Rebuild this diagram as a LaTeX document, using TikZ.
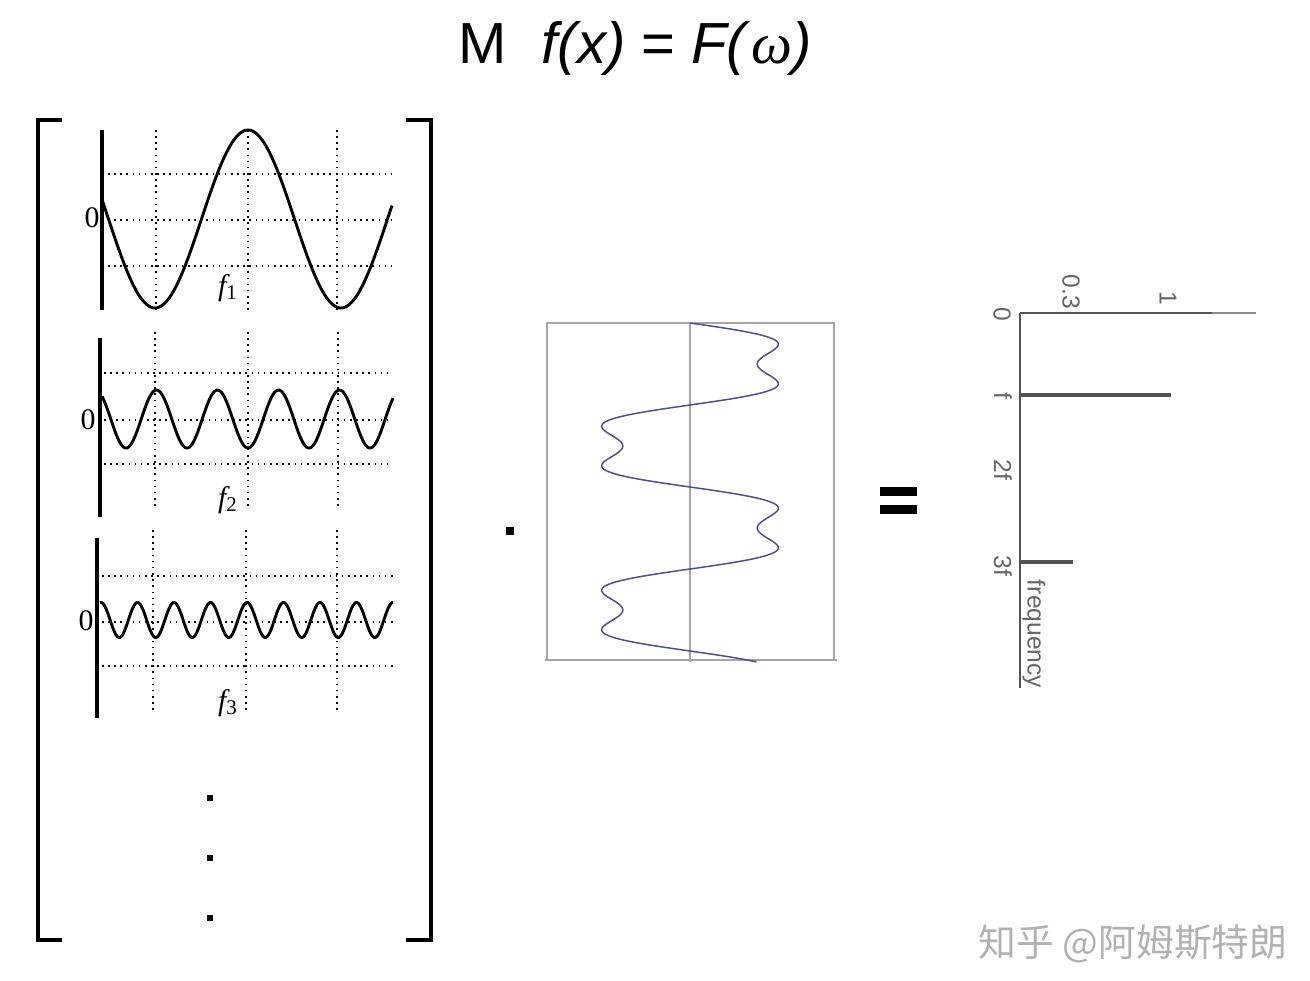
\documentclass[tikz,border=0pt]{standalone}
\usepackage{fontspec}
\setmainfont{Liberation Sans}
\newfontfamily\serifA{Liberation Serif}
\newfontfamily\cjk{Noto Sans CJK SC}
\begin{document}
\begin{tikzpicture}[x=0.02cm,y=-0.02cm,
  gridl/.style={line width=0.9pt, dash pattern=on 0.9pt off 2.6pt},
  wave/.style={line width=1.65pt, line join=round},
  axisv/.style={line width=1.8pt},
  bracketl/.style={line width=2.8pt},
  zlab/.style={font=\serifA\fontsize{17}{18}\selectfont, inner sep=0pt},
  flab/.style={font=\serifA\itshape\fontsize{17}{18}\selectfont, inner sep=0pt},
  dotsq/.style={fill=black, minimum size=3.4pt, inner sep=0pt},
  boxl/.style={draw=black!35, line width=0.6pt},
  spec/.style={draw=black!68},
  slab/.style={text=black!60, font=\fontsize{14}{15}\selectfont, rotate=-90, inner sep=0pt}
]
\useasboundingbox (0,0) rectangle (1310,980);
\fill[white] (0,0) rectangle (1310,980);

% title
\node[inner sep=0pt, font=\fontsize{33}{40}\selectfont] (title) at (635,48)
  {M\hspace{0.6em}\textit{f(x)} = \textit{F(}{\serifA\itshape ω}\textit{)}};

% brackets
\draw[bracketl] (62,120) -- (38,120) -- (38,940) -- (62,940);
\draw[bracketl] (406,120) -- (431,120) -- (431,940) -- (406,940);

% panel 1
\foreach \gx in {156,248,337} \draw[gridl] (\gx,130) -- (\gx,312);
\foreach \gy in {174,220,266} \draw[gridl] (108,\gy) -- (392,\gy);
\draw[axisv] (102,130) -- (102,310);
\draw[wave] plot[domain=102:392, samples=160] (\x, {219 - 89*cos((\x-248)/186*360)});
\node[zlab] (z1) at (92,218) {0};
\node[flab] (f1) at (228,288) {f\textsubscript{\normalfont\serifA 1}};

% panel 2
\foreach \gx in {155,248,338} \draw[gridl] (\gx,332) -- (\gx,510);
\foreach \gy in {373,420,464} \draw[gridl] (104,\gy) -- (393,\gy);
\draw[axisv] (100,338) -- (100,517);
\draw[wave] plot[domain=102:393, samples=260] (\x, {419 + 29*cos((\x-248)/61*360)});
\node[zlab] (z2) at (88,420) {0};
\node[flab] (f2) at (228,500) {f\textsubscript{\normalfont\serifA 2}};

% panel 3
\foreach \gx in {153,246,337} \draw[gridl] (\gx,530) -- (\gx,712);
\foreach \gy in {576,622,666} \draw[gridl] (102,\gy) -- (393,\gy);
\draw[axisv] (97,538) -- (97,718);
\draw[wave] plot[domain=100:393, samples=400] (\x, {620 - 17.5*cos((\x-247)/36.5*360)});
\node[zlab] (z3) at (86,621) {0};
\node[flab] (f3) at (228,703) {f\textsubscript{\normalfont\serifA 3}};

% vertical dots
\node[dotsq] (d1) at (210,798) {};
\node[dotsq] (d2) at (210,858) {};
\node[dotsq] (d3) at (210,918) {};

% multiplication dot
\node[fill=black, minimum size=4.8pt, inner sep=0pt] (mdot) at (510,531) {};

% middle plot
\draw[boxl] (547,660) -- (547,323) -- (834,323) -- (834,660);
\draw[boxl] (545,660) -- (837,660);
\draw[boxl] (690,323) -- (690,662);
\draw[line width=0.85pt, draw={rgb,255:red,80;green,80;blue,140}]
  plot[domain=0:744, samples=400] ({690 + 96*(sin(\x) + 0.3*sin(3*\x))}, {323 + \x/360*164});

% equals sign
\fill (880,487) rectangle (917,496);
\fill (880,505) rectangle (917,514);

% spectrum
\coordinate (O) at (1020,313);
\draw[spec, line width=1.3pt] (1020,313) -- (1212,313);
\draw[draw=black!45, line width=0.8pt] (1212,313) -- (1256,313);
\draw[spec, line width=1.3pt] (1020,313) -- (1020,688);
\draw[spec, line width=2pt] (1020,395) -- (1171,395);
\draw[spec, line width=2pt] (1020,562) -- (1073,562);
\node[slab] (s0) at (1002,314) {0};
\node[slab] (s03) at (1071,292) {0.3};
\node[slab] (s1) at (1168,298) {1};
\node[slab] (sf) at (1003,396) {f};
\node[slab] (s2f) at (1003,470) {2f};
\node[slab] (s3f) at (1003,566) {3f};
\node[slab] (sfreq) at (1034,634) {frequency};

% watermark
\node[text=black!30, font=\cjk\fontsize{21.5}{24}\selectfont, inner sep=0pt] (wm) at (1133,944) {知乎 @阿姆斯特朗};
\end{tikzpicture}
\end{document}
